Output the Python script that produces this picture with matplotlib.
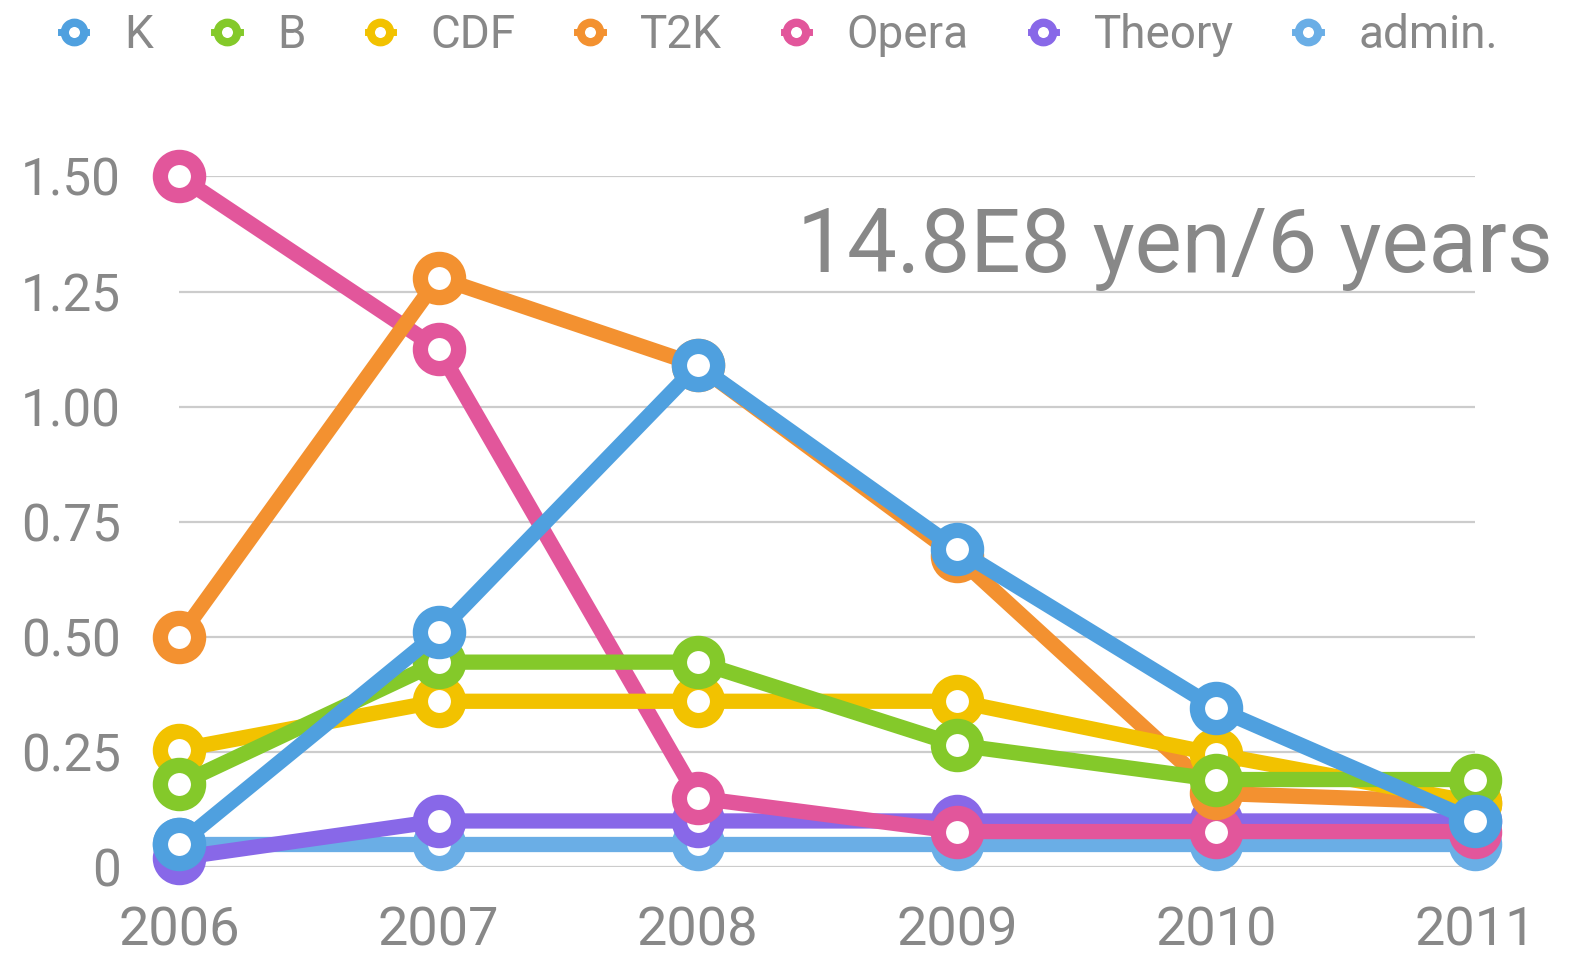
import matplotlib.pyplot as plt
from matplotlib.lines import Line2D

plt.rcParams['font.family'] = ['Roboto', 'DejaVu Sans']

years = [2006, 2007, 2008, 2009, 2010, 2011]
series_names = ['K', 'B', 'CDF', 'T2K', 'Opera', 'Theory', 'admin.']
k_vals = [0.05, 0.51, 1.09, 0.69, 0.345, 0.10]
b_vals = [0.18, 0.445, 0.445, 0.265, 0.19, 0.19]
cdf_vals = [0.255, 0.36, 0.36, 0.36, 0.245, 0.14]
t2k_vals = [0.50, 1.28, 1.09, 0.675, 0.16, 0.14]
opera_vals = [1.50, 1.125, 0.15, 0.077, 0.077, 0.077]
theory_vals = [0.02, 0.10, 0.10, 0.10, 0.10, 0.10]
admin_vals = [0.05, 0.05, 0.05, 0.05, 0.05, 0.05]
colors = ['#4FA0DF', '#84C92A', '#F2C200', '#F39130', '#E2569B', '#8868E8', '#6AAEE6']
yticks = [0, 0.25, 0.5, 0.75, 1.0, 1.25, 1.5]
ytick_labels = ['0', '0.25', '0.50', '0.75', '1.00', '1.25', '1.50']
note = '14.8E8 yen/6 years'

gray = '#888888'
all_vals = [k_vals, b_vals, cdf_vals, t2k_vals, opera_vals, theory_vals, admin_vals]

fig = plt.figure(figsize=(15.81, 9.56), dpi=100)
ax = fig.add_axes([0.1135, 0.0931, 0.8195, 0.7223])

# draw last series first so K ends up on top
for i in reversed(range(len(series_names))):
    ax.plot(years, all_vals[i], color=colors[i], lw=11, marker='o', ms=27.5,
            mew=11, mfc='white', mec=colors[i], clip_on=False, zorder=3 + (7 - i))

ax.set_xlim(2006, 2011)
ax.set_ylim(0, 1.5)
ax.set_yticks(yticks)
ax.set_yticklabels(ytick_labels)
ax.set_xticks(years)
ax.set_xticklabels([str(y) for y in years])
ax.tick_params(length=0, labelcolor=gray)
ax.tick_params(axis='y', pad=42, labelsize=37)
ax.tick_params(axis='x', pad=28, labelsize=39)
ax.grid(axis='y', color='#CCCCCC', lw=1.6)
ax.set_axisbelow(True)
for s in ax.spines.values():
    s.set_visible(False)

fig.text(797 / 1581, 1 - 272 / 956, note, fontsize=64, color=gray, va='baseline')

handles = [Line2D([], [], color=c, lw=5, marker='o', ms=14, mew=6, mfc='white', mec=c)
           for c in colors]
fig.legend(handles, series_names, loc='upper center', bbox_to_anchor=(0.493, 1.03),
           ncol=7, frameon=False, fontsize=33, labelcolor=gray, handlelength=0.55,
           handletextpad=0.82, columnspacing=1.35)

fig.savefig('out.png', dpi=100)
